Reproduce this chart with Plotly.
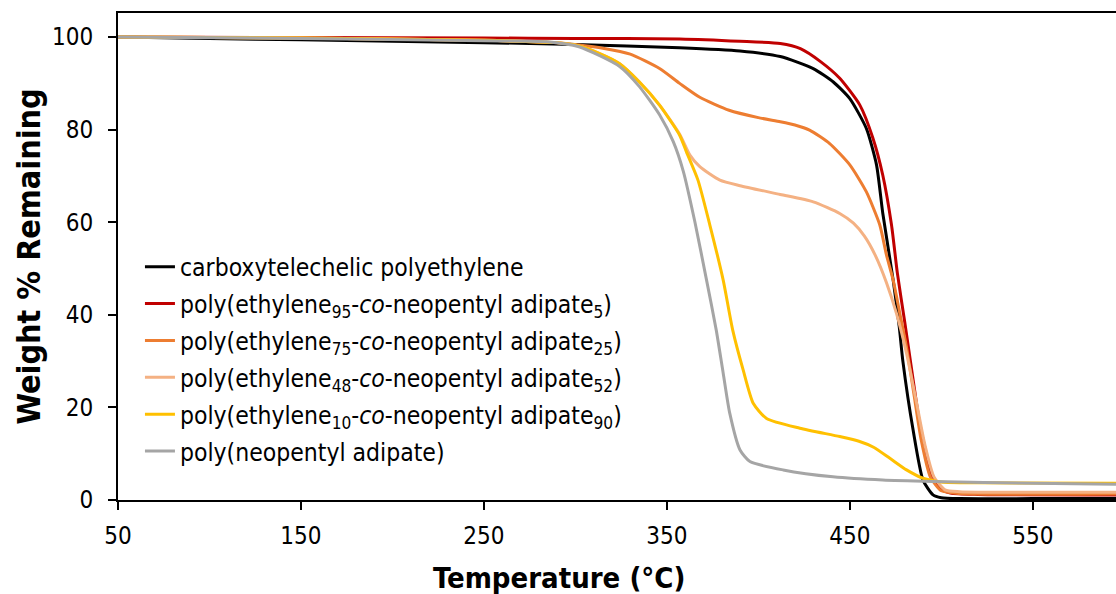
import plotly.graph_objects as go

# ---- data ----
names = [
    "carboxytelechelic polyethylene",
    "poly(ethylene<sub>95</sub>-<i>co</i>-neopentyl adipate<sub>5</sub>)",
    "poly(ethylene<sub>75</sub>-<i>co</i>-neopentyl adipate<sub>25</sub>)",
    "poly(ethylene<sub>48</sub>-<i>co</i>-neopentyl adipate<sub>52</sub>)",
    "poly(ethylene<sub>10</sub>-<i>co</i>-neopentyl adipate<sub>90</sub>)",
    "poly(neopentyl adipate)",
]
colors = ["#000000", "#C00000", "#ED7D31", "#F4B183", "#FFC000", "#A5A5A5"]

t_pe = [50, 100, 150, 200, 250, 300, 357, 390, 412, 430, 441, 450, 459, 464.6, 468,
        473.7, 477, 479, 484.6, 490, 495.5, 500, 510, 550, 600]
w_pe = [100, 99.7, 99.4, 99.1, 98.8, 98.4, 97.7, 97.0, 95.8, 93.2, 90.3, 86.7, 80.3, 72.4, 62,
        47.5, 37.5, 30, 15.1, 4.3, 1.1, 0.5, 0.3, 0.3, 0.3]

t_95 = [50, 150, 250, 300, 357, 390, 412, 423, 434, 444.5, 455.5, 462.6, 468, 472.8,
        476, 480, 484.6, 488, 491.8, 495, 499, 505, 520, 600]
w_95 = [100, 99.9, 99.8, 99.7, 99.6, 99.1, 98.6, 97.5, 94.7, 91.1, 85.3, 78.2, 70.2, 59.4,
        49, 38.5, 26, 17, 10, 5, 2.5, 1.5, 1.2, 1.1]

t_75 = [50, 150, 250, 290, 302, 315, 330, 346, 357, 368, 384, 400, 412, 420, 428, 439, 450,
        459, 466.4, 470, 473.7, 477, 481, 485, 489, 494, 500, 510, 600]
w_75 = [100, 99.8, 99.3, 98.8, 98.3, 97.6, 96.3, 93.2, 90.0, 87.0, 84.2, 82.6, 81.7, 81.0, 79.9, 77.0, 72.4,
        66.6, 59.4, 53, 47.5, 41, 33, 23, 13, 5, 2, 1.4, 1.3]

t_48 = [50, 150, 250, 290, 302, 313, 324, 335, 346, 357, 362.6, 368, 379, 390, 412, 430,
        444.5, 452, 458, 464, 470, 475.5, 481, 486, 491, 496, 502, 510, 600]
w_48 = [100, 99.8, 99.3, 98.8, 98.1, 96.5, 94.3, 90.3, 85.3, 79.0, 74.5, 72.0, 69.1, 67.9, 66.0, 64.4,
        61.9, 59.8, 57.0, 52.8, 47.0, 40.3, 31.7, 22, 12, 5, 2.2, 1.8, 1.7]

t_10 = [50, 150, 250, 290, 302, 313, 324, 335, 346, 357, 360.7, 367, 373.5, 380.8, 386,
        391.7, 397.2, 404.5, 422.7, 444.5, 455, 463, 471.9, 481, 490, 500, 520, 600]
w_10 = [100, 99.8, 99.3, 98.8, 98.1, 96.5, 94.3, 90.3, 85.3, 78.8, 75.2, 69.1, 59.4, 47.5, 36.7,
        28.1, 20.9, 17.6, 15.5, 13.7, 12.7, 11.4, 9.0, 6.5, 4.7, 3.9, 3.7, 3.6]

t_pna = [50, 150, 250, 284, 302, 324, 335, 346, 353.5, 359, 365.3, 371.7, 377,
         380.8, 384.4, 390, 395.4, 413.6, 440.8, 468, 495.5, 550, 600]
w_pna = [100, 99.7, 99.2, 99.0, 97.9, 93.7, 89.3, 83.2, 77.4, 71.0, 60.1, 47.5, 36.7,
         27.4, 18.7, 10.8, 8.3, 6.5, 5.0, 4.3, 4.0, 3.6, 3.4]

temps = [t_pe, t_95, t_75, t_48, t_10, t_pna]
weights = [w_pe, w_95, w_75, w_48, w_10, w_pna]

x_ticks = [50, 150, 250, 350, 450, 550]
y_ticks = [0, 20, 40, 60, 80, 100]

FONT = "DejaVu Sans Condensed, DejaVu Sans, sans-serif"

fig = go.Figure()
for i, (n, c, t, w) in enumerate(zip(names, colors, temps, weights)):
    fig.add_trace(go.Scatter(
        x=t, y=w, name=n, mode="lines",
        line=dict(color=c, width=3, shape="spline", smoothing=0.6),
        legendgroup=f"g{i}",
    ))

fig.update_layout(
    width=1116, height=594,
    margin=dict(l=118, r=0, t=13, b=94),
    paper_bgcolor="white", plot_bgcolor="white",
    font=dict(family=FONT, size=22, color="#000000"),
    showlegend=True,
    legend=dict(
        x=0.022, y=0.525, xanchor="left", yanchor="top",
        bgcolor="rgba(0,0,0,0)", font=dict(family=FONT, size=24.5, color="#000000"),
        tracegroupgap=2, itemwidth=30,
    ),
    xaxis=dict(
        range=[50, 595.5], tickvals=x_ticks, ticktext=[str(v) for v in x_ticks],
        showgrid=False, zeroline=False,
        showline=True, linecolor="#000000", linewidth=2, mirror=True,
        ticks="outside", ticklen=8, tickwidth=2, tickcolor="#000000",
        tickfont=dict(family=FONT, size=24), ticklabelstandoff=5,
    ),
    yaxis=dict(
        range=[0, 105.2], tickvals=y_ticks, ticktext=[str(v) for v in y_ticks],
        showgrid=False, zeroline=False,
        showline=True, linecolor="#000000", linewidth=2,
        ticks="outside", ticklen=8, tickwidth=2, tickcolor="#000000",
        tickfont=dict(family=FONT, size=24), ticklabelstandoff=10,
        title=dict(text="<b>Weight % Remaining</b>", font=dict(family=FONT, size=32), standoff=2),
    ),
    annotations=[dict(
        text="<b>Temperature (°C)</b>", xref="paper", yref="paper",
        x=0.442, y=-0.160, xanchor="center", yanchor="middle", showarrow=False,
        font=dict(family=FONT, size=29, color="#000000"),
    )],
)

fig.write_html("out.html")
